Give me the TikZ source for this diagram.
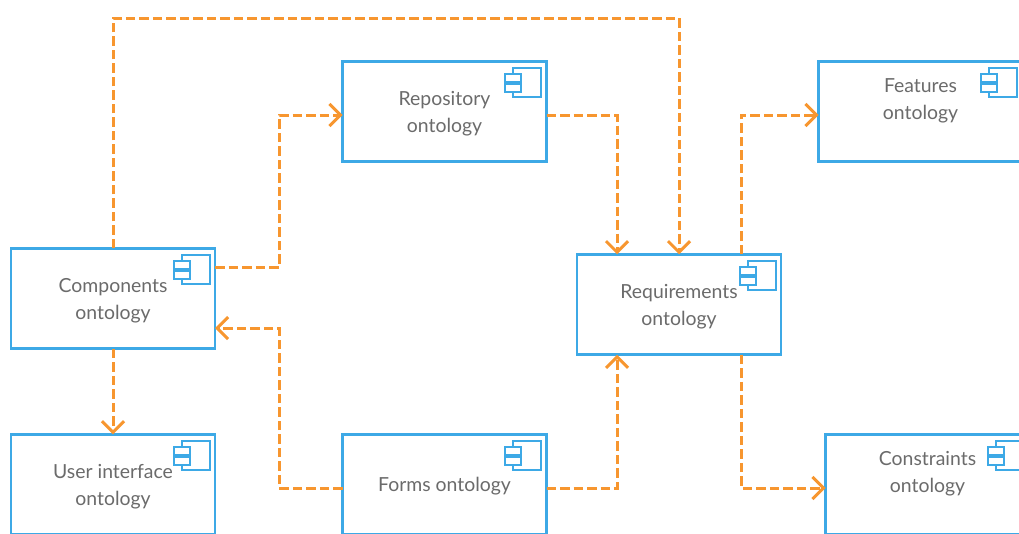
\documentclass[tikz,border=0pt]{standalone}
\usepackage{fontspec}
\setmainfont{Lato}
\usepackage{tikz}
\usetikzlibrary{positioning, arrows.meta}
\definecolor{boxBlue}{HTML}{3DA9E6}
\definecolor{flowOrange}{HTML}{F7962F}
\definecolor{labelGray}{HTML}{6B6B6B}
\tikzset{Component/.style={%
    shape=rectangle,%
    draw=boxBlue,%
    fill=white,%
    line width=2.7pt,%
    minimum width=204pt,%
    minimum height=100.5pt,%
    inner sep=0pt,%
    outer sep=0pt,%
    align=center,%
    text=labelGray,%
    text depth=0pt,%
    font=\fontsize{19.4}{27}\selectfont,%
}}
\tikzset{RaisedComponent/.style={%
    Component,%
    text depth=25pt,%
}}
\tikzset{IconPart/.style={%
    draw=boxBlue,%
    fill=white,%
    line width=2pt,%
}}
\tikzset{FlowEdge/.style={%
    draw=flowOrange,%
    line width=3pt,%
    dash pattern=on 9.5pt off 4pt,%
}}
\tikzset{FlowArrow/.style={%
    FlowEdge,%
    -{Straight Barb[length=11pt,width=22pt,line width=3pt]},%
}}
\newcommand{\componentIcon}[1]{%
    \draw[IconPart] ([xshift=-33.2pt,yshift=-6.5pt]#1.north east) rectangle ([xshift=-5.2pt,yshift=-36.1pt]#1.north east);%
    \draw[IconPart] ([xshift=-41.5pt,yshift=-12.5pt]#1.north east) rectangle ([xshift=-25.5pt,yshift=-20.5pt]#1.north east);%
    \draw[IconPart] ([xshift=-41.5pt,yshift=-23.1pt]#1.north east) rectangle ([xshift=-25.5pt,yshift=-30.5pt]#1.north east);%
}

\begin{document}
\begin{tikzpicture}[x=1pt, y=-1pt]
    \useasboundingbox (0,0) rectangle (1019,533);
    \clip (0,0) rectangle (1019,533);

    \node[Component] (comp) at (113,298.5) {Components\\ontology};
    \node[Component, below=85.5pt of comp] (ui) {User interface\\ontology};
    \node[Component, right=127.5pt of ui] (forms) {Forms ontology};
    \node[Component, above=272.5pt of forms] (repo) {Repository\\ontology};
    \node[RaisedComponent, right=272pt of repo] (feat) {Features\\ontology};
    \node[RaisedComponent, right=279pt of forms] (cons) {Constraints\\ontology};
    \node[Component, right=362pt of comp, yshift=-6pt] (req) {Requirements\\ontology};

    \foreach \part in {comp, ui, forms, repo, feat, cons, req} {
        \componentIcon{\part}
    }

    \coordinate (topBend) at (400,18);
    \coordinate (upperBend) at (279,200);
    \coordinate (lowerBend) at (279,400);

    \draw[FlowArrow] (comp.north) |- (topBend) -| (req.north);
    \draw[FlowArrow] ([yshift=31.5pt]comp.east) -| (upperBend) |- ([yshift=-3.5pt]repo.west);
    \draw[FlowArrow] ([yshift=-3.5pt]forms.west) -| (lowerBend) |- ([yshift=-29.5pt]comp.east);
    \draw[FlowArrow] ([yshift=-3.5pt]repo.east) -| ([xshift=-62pt]req.north);
    \draw[FlowArrow] ([yshift=-3.5pt]forms.east) -| ([xshift=-62pt]req.south);
    \draw[FlowArrow] ([xshift=62pt]req.north) |- ([yshift=-3.5pt]feat.west);
    \draw[FlowArrow] ([xshift=62pt]req.south) |- ([yshift=-3.5pt]cons.west);
    \draw[FlowArrow] (comp.south) -- (ui.north);
\end{tikzpicture}
\end{document}
